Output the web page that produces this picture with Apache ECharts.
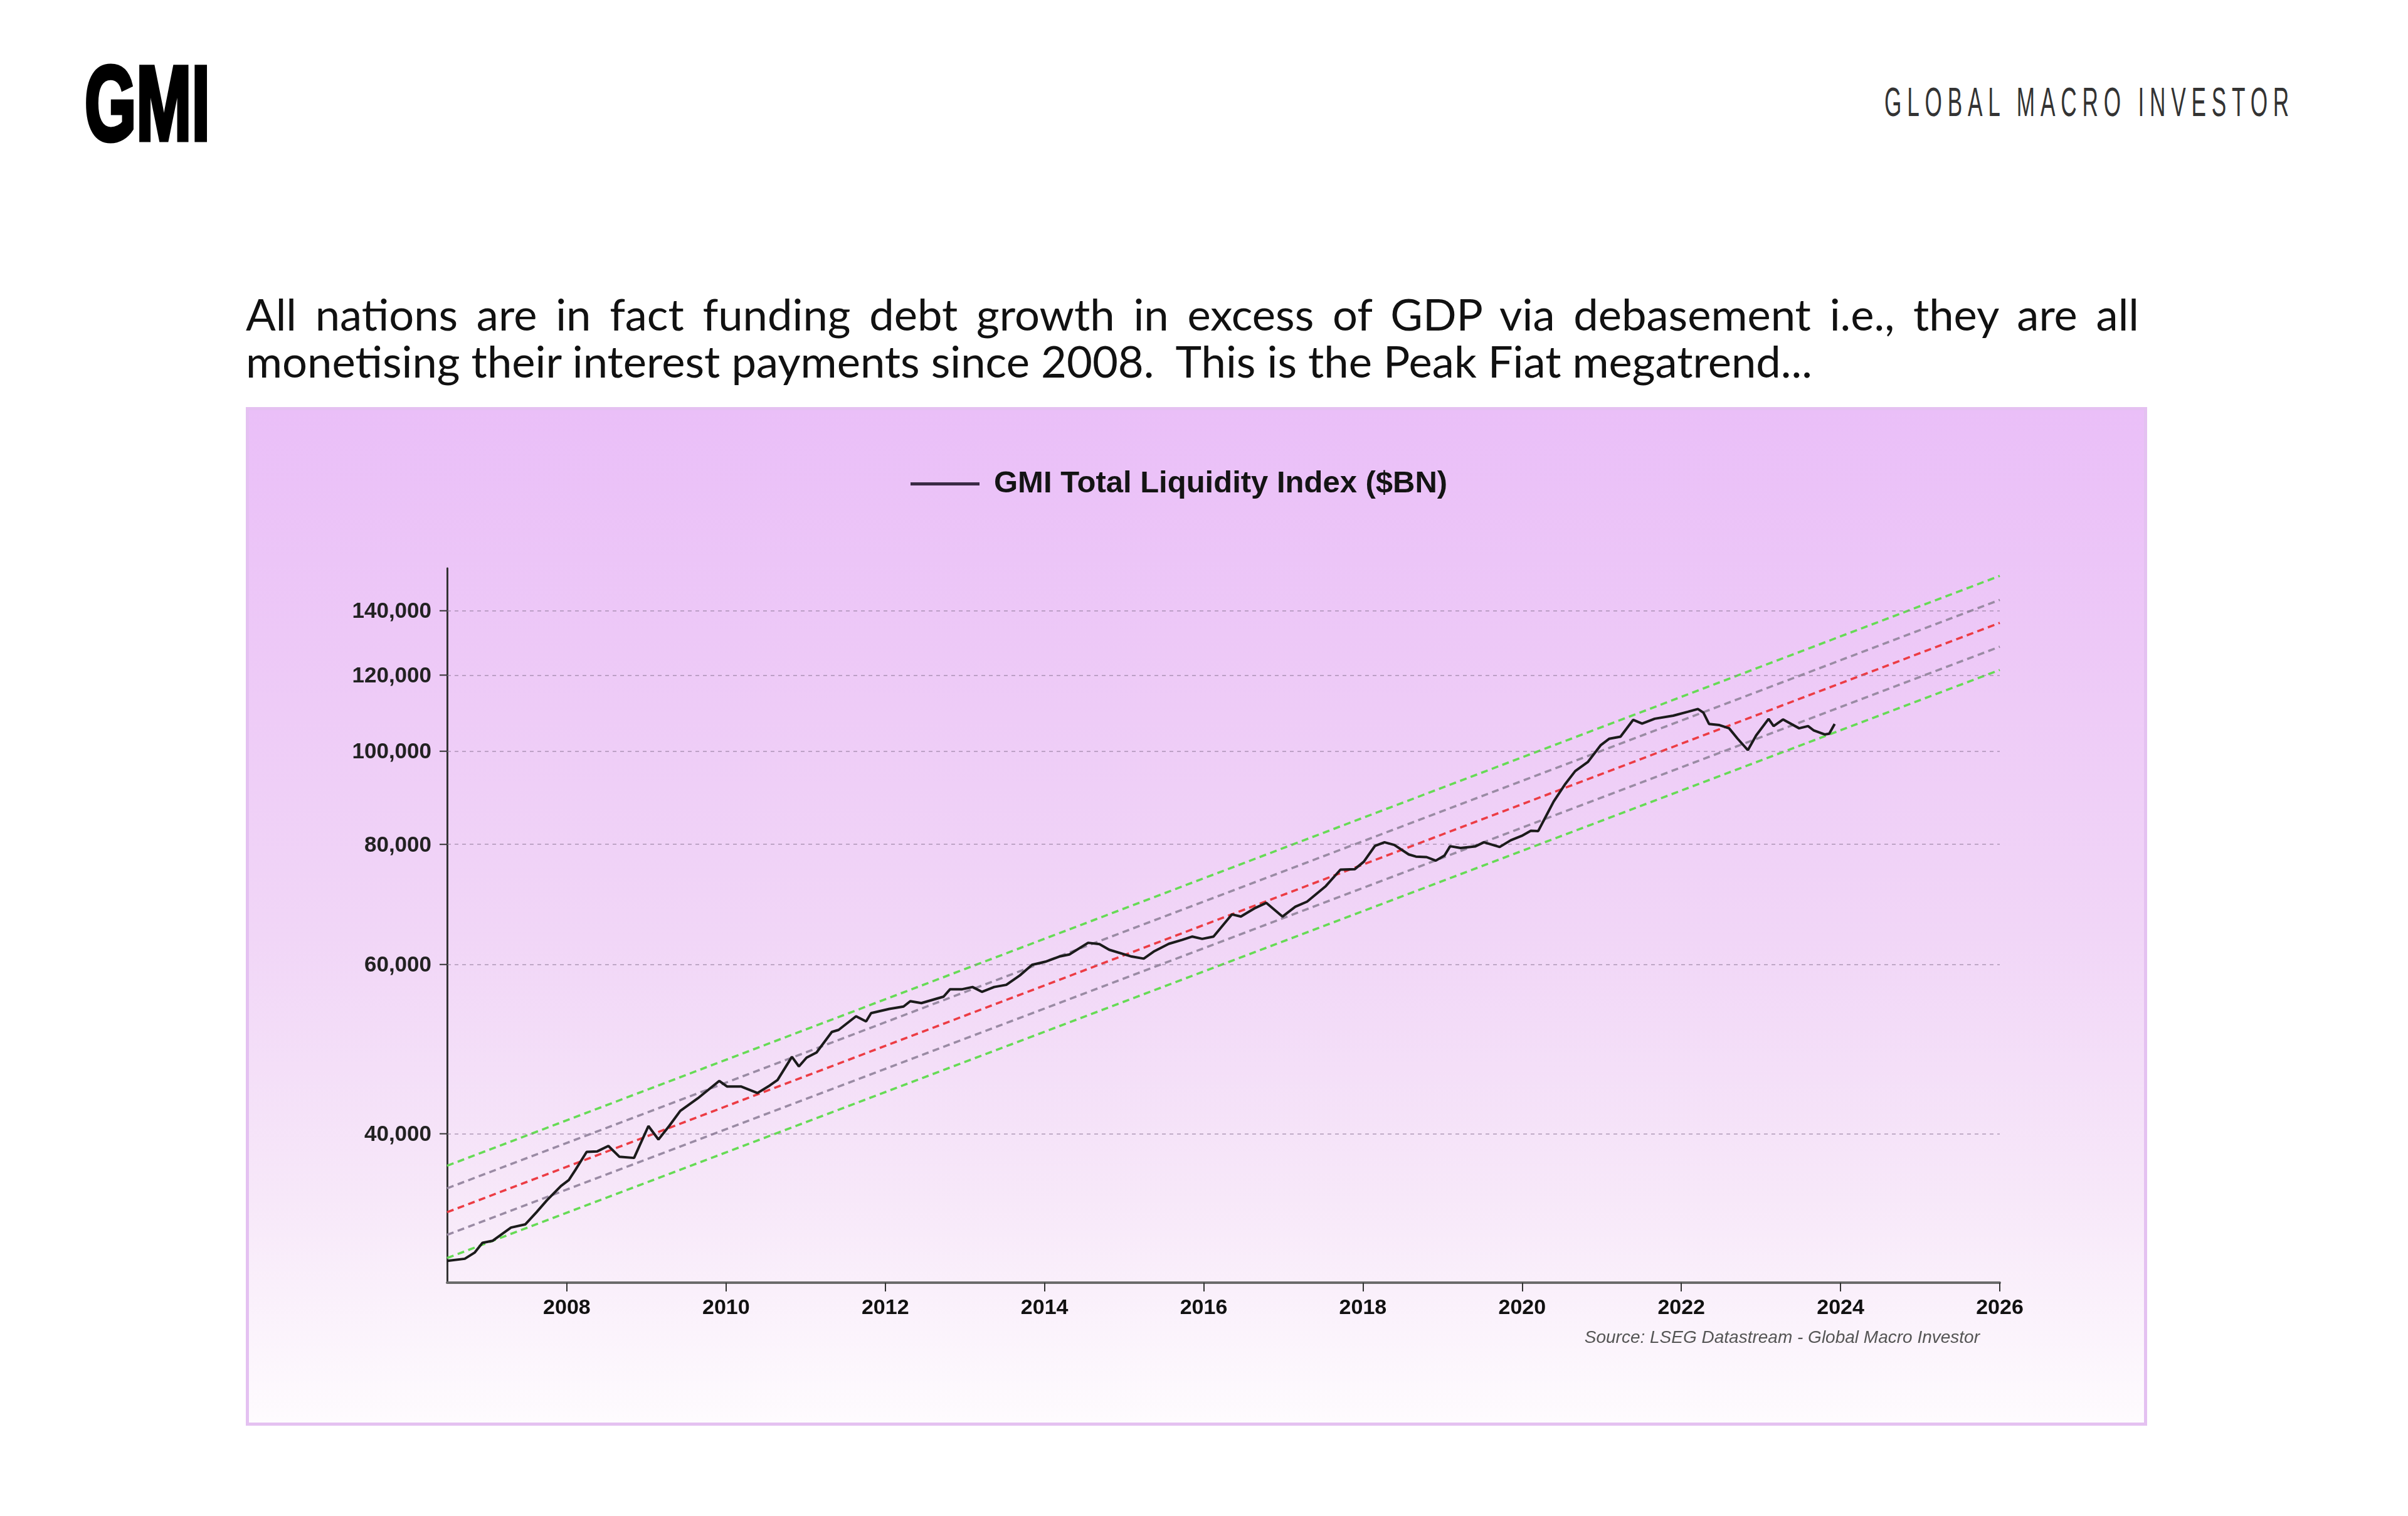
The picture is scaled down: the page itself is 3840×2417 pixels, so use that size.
<!DOCTYPE html>
<html>
<head>
<meta charset="utf-8">
<script src="https://cdn.jsdelivr.net/npm/echarts@6/dist/echarts.min.js"></script>
<style>
  html, body { margin:0; padding:0; background:#fff; }
  body { width:3840px; height:2417px; position:relative; overflow:hidden; }
  #logo { position:absolute; left:135px; top:81px; font-family:"Liberation Sans", Arial, sans-serif; font-weight:bold; font-size:168px; line-height:1; color:#000; -webkit-text-stroke:7px #000; transform-origin:left top; white-space:nowrap; display:inline-block; }
  #brand { position:absolute; left:3005px; top:131px; font-family:"Liberation Sans", Arial, sans-serif; font-size:64px; line-height:1; color:#333; letter-spacing:16px; transform-origin:left top; white-space:nowrap; display:inline-block; }
  .sub { position:absolute; left:392px; font-family:Lato, "Open Sans", sans-serif; font-size:68px; line-height:70px; color:#111; white-space:pre; display:inline-block; }
  #panel { position:absolute; left:392px; top:649px; width:3032px; height:1624px; box-sizing:border-box; border:5px solid #e4c1f1;
           background:linear-gradient(to bottom, #eabff8 0%, #edc8f7 22%, #f1d6f7 52%, #f7e8f9 78%, #fefbfe 100%); }
  #chart { position:absolute; left:0; top:0; width:3840px; height:2417px; }
</style>
</head>
<body>
<div id="logo">GMI</div>
<div id="brand">GLOBAL MACRO INVESTOR</div>
<div id="sub1" class="sub">All nations are in fact funding debt growth in excess of GDP via debasement i.e., they are all</div>
<div id="sub2" class="sub">monetising their interest payments since 2008.  This is the Peak Fiat megatrend...</div>
<div id="panel"></div>
<div id="chart"></div>
<script>
// ---------------- data ----------------
const dates = [
'2006-07-01','2006-09-20','2006-11-05','2006-12-10','2007-01-25','2007-04-20','2007-06-25','2007-08-15','2007-10-01','2007-12-05',
'2008-01-10','2008-02-10','2008-04-01','2008-05-20','2008-07-10','2008-08-30','2008-11-05','2009-01-10','2009-02-25','2009-04-15',
'2009-06-05','2009-08-25','2009-12-01','2010-01-05','2010-03-10','2010-05-25','2010-07-20','2010-08-25','2010-10-30','2010-12-01',
'2011-01-05','2011-02-20','2011-05-01','2011-06-01','2011-08-20','2011-10-05','2011-10-28','2012-01-20','2012-03-25','2012-04-25',
'2012-06-15','2012-09-25','2012-10-25','2012-12-20','2013-02-05','2013-03-20','2013-05-15','2013-07-10','2013-09-10','2013-11-05',
'2014-01-05','2014-03-10','2014-04-25','2014-07-20','2014-09-10','2014-10-25','2015-02-05','2015-04-01','2015-05-20','2015-07-25',
'2015-09-25','2015-11-10','2015-12-25','2016-02-15','2016-05-10','2016-06-20','2016-08-25','2016-10-15','2016-12-28','2017-02-25',
'2017-04-20','2017-07-15','2017-09-20','2017-11-25','2018-01-05','2018-02-25','2018-04-10','2018-05-25','2018-07-30','2018-09-01',
'2018-10-20','2018-12-01','2019-01-10','2019-02-05','2019-03-25','2019-05-30','2019-07-10','2019-09-20','2019-11-10','2019-12-30',
'2020-02-10','2020-03-15','2020-04-25','2020-05-25','2020-07-15','2020-09-01','2020-10-30','2020-12-28','2021-02-05','2021-03-28',
'2021-05-25','2021-07-05','2021-09-01','2021-11-25','2022-01-30','2022-03-18','2022-04-12','2022-05-08','2022-06-25','2022-08-08',
'2022-09-16','2022-11-02','2022-12-10','2023-02-05','2023-02-28','2023-04-12','2023-06-25','2023-08-05','2023-08-30','2023-10-20',
'2023-11-10','2023-12-05'
];
const liquidity = [
29500,29650,30100,30800,30950,31950,32200,33150,34100,35300,
35800,36700,38300,38350,38850,37850,37750,40750,39450,40750,
42250,43550,45400,44800,44800,44100,44900,45500,48100,47000,
48000,48600,51050,51300,53000,52350,53400,53950,54250,54950,
54700,55550,56550,56550,56850,56200,56850,57150,58450,59950,
60400,61150,61450,63200,63000,62150,61150,60850,61950,63050,
63650,64150,63800,64150,67650,67300,68700,69550,67300,68900,
69750,72400,75300,75400,76750,79700,80400,79900,78100,77700,
77600,76950,77900,79650,79300,79600,80400,79500,80800,81650,
82650,82600,86050,88650,92300,95350,97500,101500,103050,103550,
107800,106850,108100,108900,109900,110650,109700,106750,106450,105650,
103050,100250,103850,108050,106200,107900,105650,106200,105150,104100,
104300,106750
];
const trendDates  = ['2006-07-01', '2026-01-01'];
const trendLower2 = [29700, 121500];
const trendLower1 = [31400, 128450];
const trendMid    = [33150, 136000];
const trendUpper1 = [35100, 143700];
const trendUpper2 = [37050, 152200];
const yTicks      = [40000, 60000, 80000, 100000, 120000, 140000];
const yTickLabels = ['40,000', '60,000', '80,000', '100,000', '120,000', '140,000'];
const xTicks      = [2008, 2010, 2012, 2014, 2016, 2018, 2020, 2022, 2024, 2026];
const xTickLabels = ['2008','2010','2012','2014','2016','2018','2020','2022','2024','2026'];
const seriesName  = 'GMI Total Liquidity Index ($BN)';
const sourceText  = 'Source: LSEG Datastream - Global Macro Investor';

// date string -> fractional year (position on the value axis)
function toYear(s) {
  const d = Date.parse(s + 'T00:00:00Z');
  const y = new Date(d).getUTCFullYear();
  const a = Date.UTC(y, 0, 1), b = Date.UTC(y + 1, 0, 1);
  return y + (d - a) / (b - a);
}

// ---------------- header layout fitting ----------------
(function () {
  const logo = document.getElementById('logo');
  const lw = logo.getBoundingClientRect().width;
  logo.style.transform = 'scaleX(' + (200 / lw) + ')';
  const brand = document.getElementById('brand');
  const bw = brand.getBoundingClientRect().width;
  brand.style.transform = 'scaleX(' + ((638 + 16) / bw) + ')';
  const s2 = document.getElementById('sub2');
  const w2 = s2.getBoundingClientRect().width;
  const fs = 68 * 2498 / w2;
  const s1 = document.getElementById('sub1');
  s1.style.fontSize = fs + 'px';
  s2.style.fontSize = fs + 'px';
  const w1 = s1.getBoundingClientRect().width;
  const spaces = (s1.textContent.match(/ /g) || []).length;
  s1.style.wordSpacing = ((3019 - w1) / spaces) + 'px';
  s1.style.top = (527 - 35 - 0.387 * fs) + 'px';
  s2.style.top = (602 - 35 - 0.387 * fs) + 'px';
})();

// ---------------- chart ----------------
const chart = echarts.init(document.getElementById('chart'), null, { renderer: 'canvas' });
const FONT = '"Liberation Sans", Arial, sans-serif';
const pair = (arr) => trendDates.map((d, i) => [toYear(d), arr[i]]);
const dashed = (color) => ({ color: color, width: 3.6, type: [11, 7] });

const option = {
  backgroundColor: 'transparent',
  animation: false,
  legend: {
    left: 1452, top: 747, padding: 0,
    itemWidth: 110, itemHeight: 5,
    data: [{ name: seriesName, icon: 'rect', itemStyle: { color: '#3a2a44' } }],
    textStyle: { fontFamily: FONT, fontSize: 49, fontWeight: 'bold', color: '#141414', padding: [0, 0, 0, 18] }
  },
  grid: { left: 713, right: 651, top: 906, bottom: 372, containLabel: false },
  xAxis: {
    type: 'value',
    min: toYear(trendDates[0]), max: toYear(trendDates[1]),
    axisLine: { show: true, lineStyle: { color: '#6a6a6a', width: 4 } },
    axisTick: { show: true, customValues: xTicks, length: 14, lineStyle: { color: '#333', width: 2 } },
    axisLabel: {
      show: true, customValues: xTicks, margin: 24,
      fontFamily: FONT, fontSize: 34, fontWeight: 'bold', color: '#111',
      formatter: (v) => xTickLabels[xTicks.indexOf(Math.round(v))] || ''
    },
    splitLine: { show: false }
  },
  yAxis: {
    type: 'log', logBase: 10,
    min: 28000, max: 155000,
    axisLine: { show: true, lineStyle: { color: '#333', width: 3 } },
    axisTick: { show: false },
    axisLabel: { show: false },
    splitLine: { show: false }
  },
  graphic: [{
    type: 'text', right: 683, top: 2119,
    style: { text: sourceText, font: 'italic 28px "Liberation Sans", Arial, sans-serif', fill: '#555' }
  }],
  series: [
    {
      name: 'Lower 2', type: 'line', data: pair(trendLower2), symbol: 'none', z: 2, clip: false,
      lineStyle: dashed('#66db55'), silent: true,
      markLine: {
        silent: true, symbol: 'none', animation: false,
        lineStyle: { color: 'rgba(140,118,150,0.5)', width: 2, type: [6, 6] },
        label: {
          show: true, position: 'start', distance: 0,
          formatter: (p) => '{v|' + yTickLabels[yTicks.indexOf(p.value)] + '}{t| }',
          rich: {
            v: { fontFamily: FONT, fontSize: 35, fontWeight: 'bold', color: '#222', padding: [4, 13, 0, 0] },
            t: { width: 12, height: 2, lineHeight: 2, fontSize: 2, backgroundColor: '#333' }
          }
        },
        data: yTicks.map(v => ({ yAxis: v }))
      }
    },
    { name: 'Lower 1', type: 'line', data: pair(trendLower1), symbol: 'none', z: 2, silent: true, lineStyle: dashed('#9a8ba4') },
    { name: 'Trend',   type: 'line', data: pair(trendMid),    symbol: 'none', z: 2, silent: true, lineStyle: dashed('#ec3c44') },
    { name: 'Upper 1', type: 'line', data: pair(trendUpper1), symbol: 'none', z: 2, silent: true, lineStyle: dashed('#9a8ba4') },
    { name: 'Upper 2', type: 'line', data: pair(trendUpper2), symbol: 'none', z: 2, silent: true, lineStyle: dashed('#66db55') },
    {
      name: seriesName, type: 'line', z: 5, symbol: 'none',
      data: dates.map((d, i) => [toYear(d), liquidity[i]]),
      lineStyle: { color: '#1b1b1b', width: 4 },
      itemStyle: { color: '#1b1b1b' }
    }
  ]
};
chart.setOption(option);
</script>
</body>
</html>
